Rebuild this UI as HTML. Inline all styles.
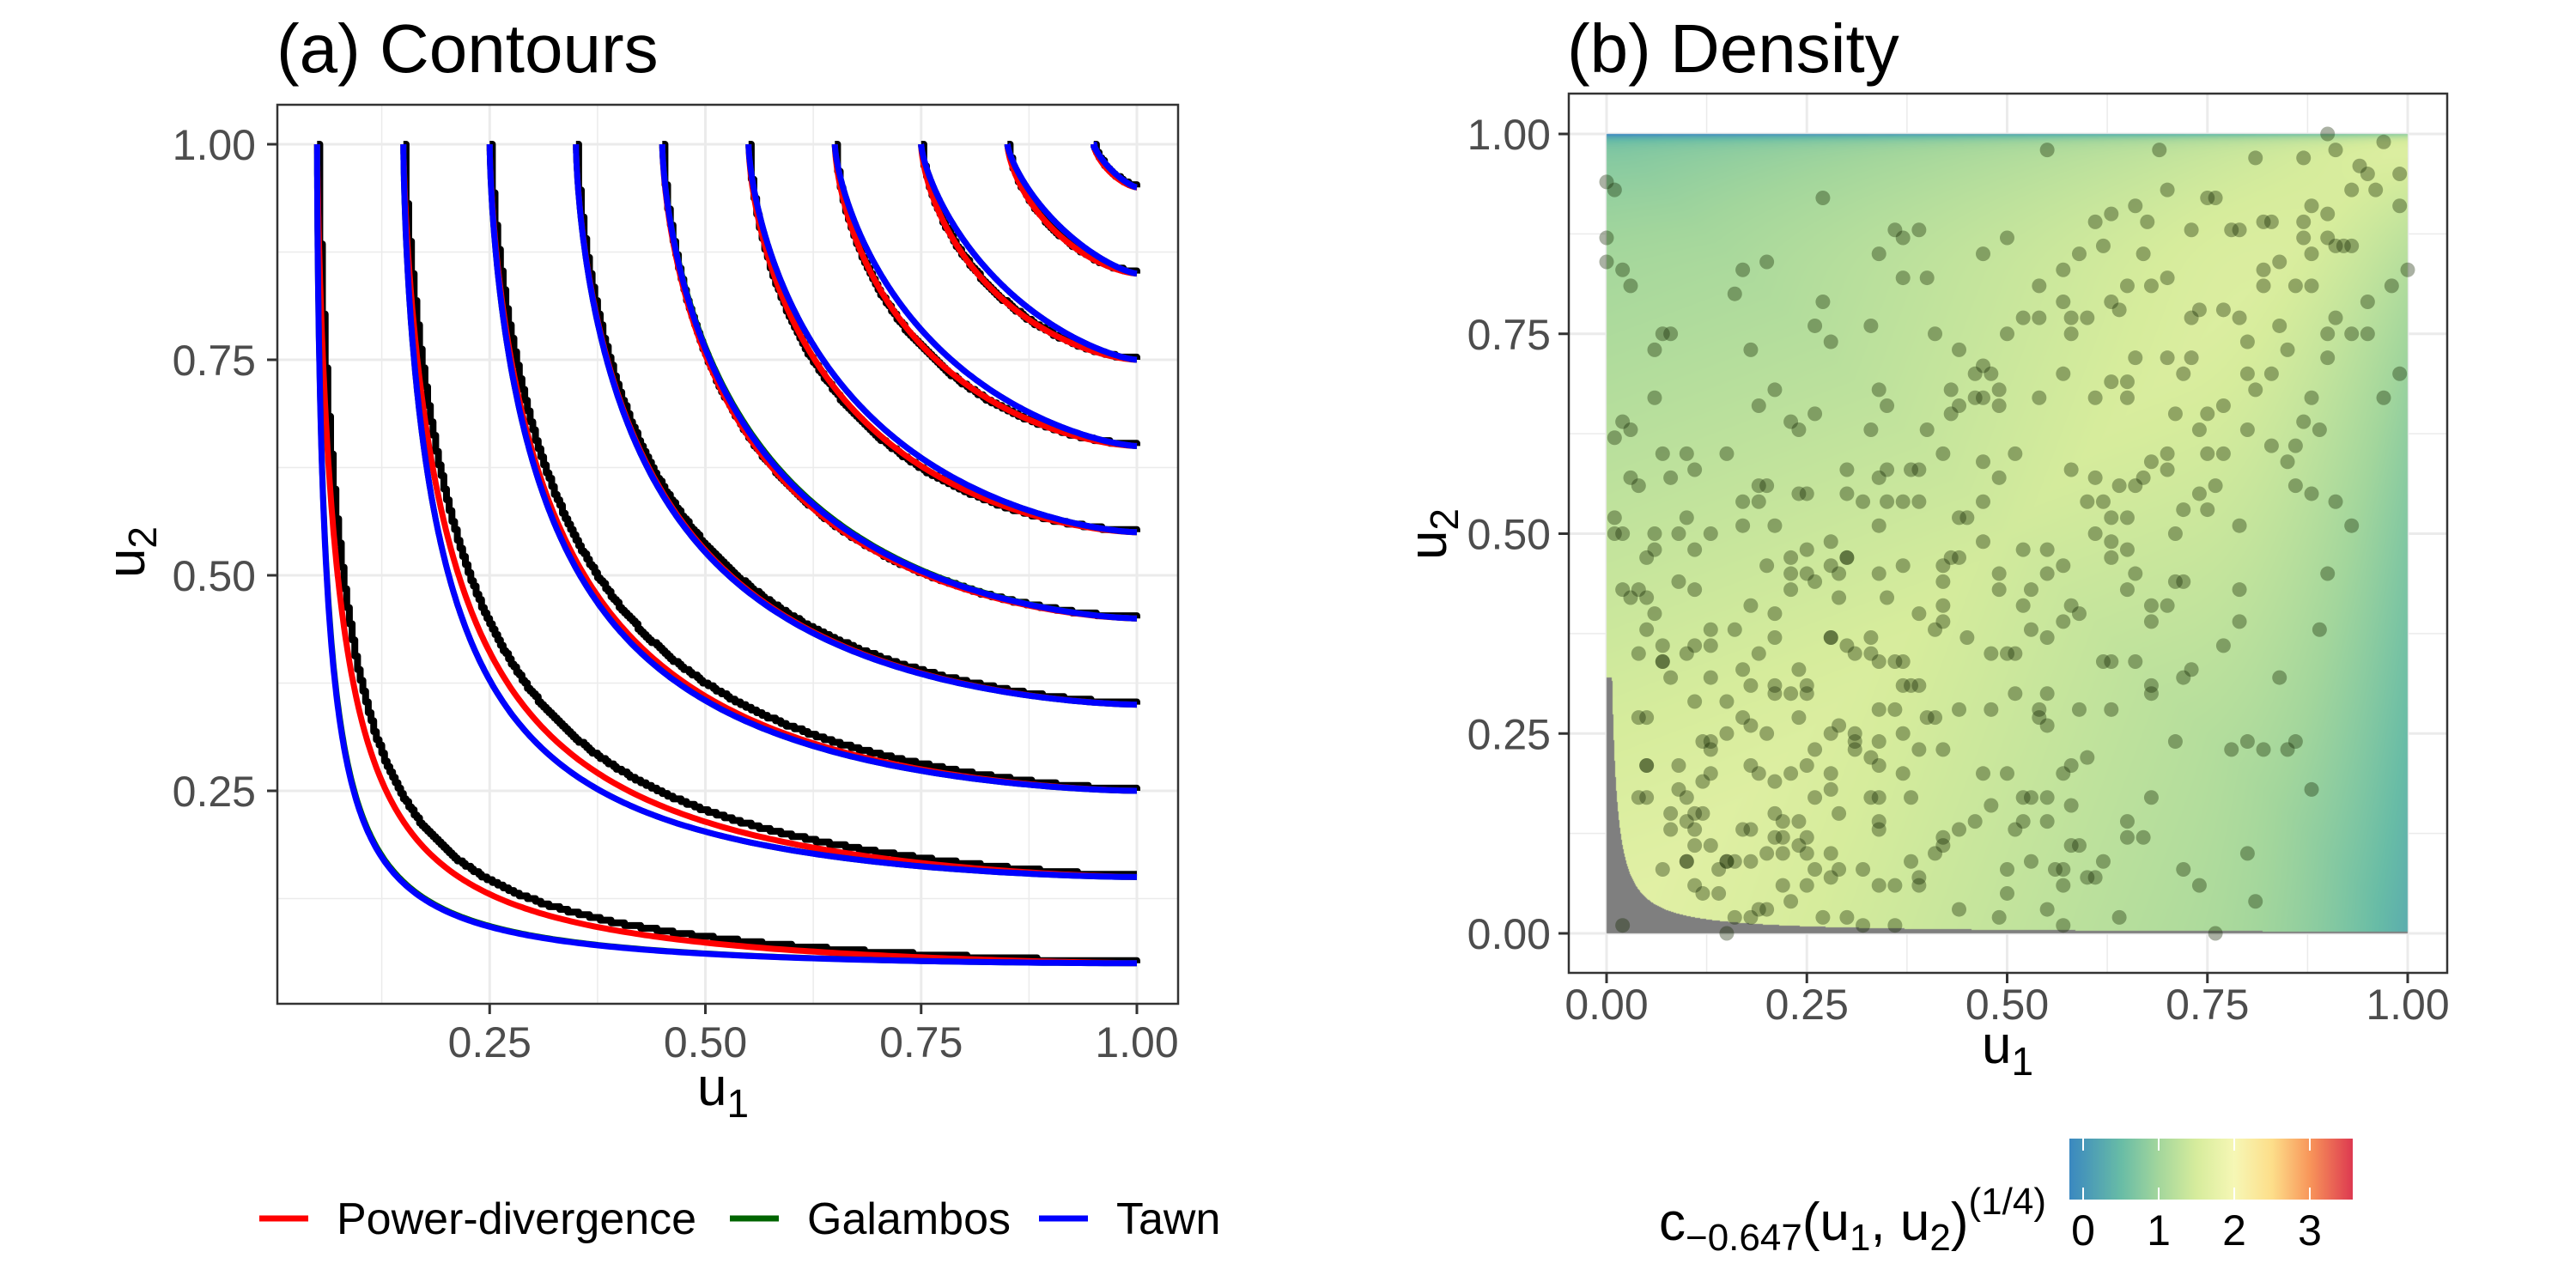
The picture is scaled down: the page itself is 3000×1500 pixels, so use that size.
<!DOCTYPE html>
<html><head><meta charset="utf-8">
<style>
html,body{margin:0;padding:0;background:#fff;}
#wrap{position:relative;width:3000px;height:1500px;overflow:hidden;font-family:"Liberation Sans",Arial,sans-serif;}
svg,canvas{position:absolute;left:0;top:0;}
</style></head>
<body>
<div id="wrap">
<svg id="under" width="3000" height="1500"></svg>
<canvas id="heat" width="3000" height="1500"></canvas>
<svg id="over" width="3000" height="1500"></svg>
</div>
<script>
// ---- data panel (a) ----
const levels=[0.05,0.15,0.25,0.35,0.45,0.55,0.65,0.75,0.85,0.95];
const thetaTawn=[1.56,1.48,1.5,1.53,1.52,1.48,1.43,1.38,1.34,1.3];
const thetaGalambos=[1.55,1.48,1.5,1.53,1.51,1.48,1.43,1.38,1.34,1.3];
const thetaPD=[1.25,1.38,1.47,1.52,1.55,1.56,1.56,1.55,1.52,1.48];
const thetaEmp=[1.18,1.3,1.4,1.5,1.56,1.6,1.6,1.58,1.55,1.5];
const axisTicks=[0.25,0.5,0.75,1.0];
const tickLabels=["0.25","0.50","0.75","1.00"];
const tickLabelsB=["0.00","0.25","0.50","0.75","1.00"];
const ticksB=[0,0.25,0.5,0.75,1];
const cbTicks=[0,1,2,3];
// ---- data panel (b): observations ----
const ptsU=[.90,.69,.55,.27,.70,.75,.76,.81,.87,.91,.94,.97,.95,.93,.96,.99,.99,.88,.90,.87,.82,.83,.87,.90,.92,.91,.93,1.0,.82,.84,.88,.86,.82,.88,.98,.95,.99,.97,.93,.95,.90,.91,.90,.85,.84,.80,.79,.77,.74,.73,.70,.68,.65,.67,.675,.66,.63,.61,.62,.59,.57,.57,.58,.60,.63,.64,.73,.78,.79,.54,.54,.52,.50,.47,.50,.39,.40,.37,.36,.37,.34,.41,.33,.28,.27,.18,.17,.16,.20,.00,.01,.00,.00,.02,.03,.06,.07,.08,.06,.02,.03,.01,.03,.04,.07,.10,.11,.08,.01,.02,.01,.06,.05,.06,.09,.10,.11,.13,.15,.17,.19,.17,.21,.20,.19,.20,.21,.19,.23,.24,.25,.24,.26,.02,.03,.04,.05,.06,.09,.11,.05,.04,.07,.07,.08,.07,.04,.11,.10,.13,.13,.16,.18,.21,.23,.23,.25,.26,.28,.30,.28,.21,.19,.17,.18,.21,.21,.23,.25,.24,.25,.13,.11,.15,.18,.20,.17,.12,.13,.13,.15,.24,.28,.26,.29,.31,.33,.28,.25,.23,.21,.18,.19,.13,.12,.10,.10,.11,.12,.09,.05,.05,.08,.07,.10,.11,.13,.14,.15,.15,.12,.14,.16,.18,.19,.20,.23,.22,.25,.21,.22,.24,.18,.17,.21,.22,.25,.28,.28,.29,.32,.34,.36,.39,.38,.39,.41,.27,.30,.32,.36,.44,.49,.50,.55,.57,.57,.57,.60,.61,.64,.62,.65,.72,.74,.76,.80,.81,.78,.80,.82,.85,.86,.88,.84,.89,.90,.91,.93,.79,.79,.77,.73,.72,.71,.68,.68,.68,.66,.63,.62,.63,.59,.60,.58,.58,.57,.54,.55,.55,.54,.51,.48,.47,.50,.52,.53,.55,.52,.55,.59,.48,.46,.44,.42,.42,.41,.44,.39,.40,.37,.38,.34,.34,.34,.42,.48,.50,.51,.53,.55,.57,.58,.59,.52,.53,.55,.57,.52,.55,.61,.63,.63,.65,.66,.65,.68,.68,.70,.71,.72,.71,.72,.74,.75,.76,.75,.77,.79,.80,.83,.85,.86,.86,.87,.88,.89,.88,.81,.80,.83,.77,.75,.74,.73,.72,.70,.71,.70,.70,.68,.67,.66,.64,.65,.63,.62,.60,.58,.61,.66,.65,.65,.63,.61,.57,.58,.54,.51,.49,.47,.47,.47,.49,.49,.44,.46,.47,.49,.49,.47,.46,.48,.44,.43,.43,.42,.44,.44,.45,.43,.42,.42,.42,.42,.45,.41,.39,.38,.37,.36,.34,.34,.37,.31,.37,.36,.34,.33,.30,.28,.34,.37,.35,.39,.39,.37,.35,.34,.32,.30,.30,.35,.38,.39,.40,.34,.35,.33,.34,.26,.25,.23,.28,.29,.29,.30,.33,.31,.31,.34,.33,.29,.28,.26,.24,.25,.26,.20,.22,.18,.16,.11,.15,.02,.05,.05,.04,.08,.09,.10,.11,.50,.51,.53,.56,.58,.65,.67];
const ptsV=[1.00,.98,.98,.92,.93,.92,.92,.97,.97,.98,.96,.99,.95,.93,.93,.95,.91,.91,.90,.89,.89,.89,.87,.87,.86,.86,.86,.83,.83,.84,.85,.81,.81,.81,.81,.79,.70,.67,.75,.75,.75,.77,.72,.73,.76,.74,.77,.78,.78,.77,.82,.81,.81,.85,.89,.91,.90,.89,.86,.85,.83,.79,.77,.77,.79,.78,.88,.88,.88,.81,.77,.77,.75,.85,.87,.88,.82,.82,.88,.87,.85,.75,.76,.74,.79,.73,.83,.80,.84,.94,.93,.87,.84,.83,.81,.73,.75,.75,.67,.64,.63,.62,.57,.56,.60,.60,.58,.57,.52,.50,.50,.50,.47,.48,.50,.52,.48,.50,.60,.54,.54,.51,.51,.46,.56,.56,.68,.66,.64,.55,.55,.63,.65,.43,.42,.43,.42,.40,.44,.43,.38,.35,.36,.34,.32,.34,.27,.36,.35,.36,.38,.38,.41,.40,.43,.47,.45,.44,.46,.47,.37,.37,.35,.33,.31,.31,.30,.30,.31,.33,.30,.32,.29,.29,.26,.25,.27,.24,.24,.23,.25,.27,.25,.23,.26,.23,.22,.20,.21,.20,.19,.21,.20,.20,.19,.17,.14,.15,.15,.18,.21,.17,.13,.08,.09,.11,.11,.08,.09,.09,.05,.05,.02,.02,.03,.03,.04,.06,.06,.12,.12,.11,.13,.13,.15,.14,.12,.10,.07,.08,.08,.06,.06,.06,.09,.07,.10,.02,.02,.01,.01,.03,.02,.05,.03,.01,.06,.08,.07,.07,.02,.09,.12,.08,.06,.00,.10,.04,.23,.24,.23,.23,.24,.18,.32,.38,.45,.54,.51,.39,.43,.36,.33,.32,.24,.17,.31,.30,.34,.34,.34,.28,.28,.22,.21,.16,.20,.27,.26,.30,.28,.30,.28,.20,.20,.17,.17,.17,.14,.14,.11,.16,.14,.13,.11,.23,.27,.28,.23,.27,.20,.17,.17,.14,.13,.12,.35,.35,.35,.38,.37,.39,.41,.40,.41,.43,.45,.46,.48,.48,.50,.49,.47,.48,.45,.43,.41,.39,.41,.44,.44,.50,.53,.55,.53,.56,.60,.60,.51,.63,.61,.59,.61,.56,.64,.67,.63,.55,.68,.70,.70,.66,.65,.63,.72,.70,.72,.65,.58,.60,.59,.57,.56,.56,.52,.52,.54,.54,.58,.57,.72,.69,.67,.69,.67,.70,.75,.67,.60,.57,.59,.54,.49,.45,.43,.66,.67,.67,.66,.68,.71,.70,.70,.73,.68,.65,.60,.52,.47,.52,.47,.46,.44,.41,.39,.37,.38,.31,.31,.31,.28,.28,.24,.25,.25,.34,.34,.34,.37,.36,.37,.45,.46,.42,.40,.54,.54,.54,.51,.54,.55,.58,.58,.58,.58,.63,.57,.66,.63,.68,.76,.48,.45,.49,.42,.45,.47,.35,.35,.24,.21,.17,.15,.18,.17,.14,.10,.08,.10,.10,.09,.09,.06,.00,.01,.27,.21,.17,.15,.21,.09,.13,.08,.13,.09,.08,.11,.14,.12,.21];

const NS="http://www.w3.org/2000/svg";
const under=document.getElementById('under'), over=document.getElementById('over');
function mk(parent,tag,attrs,text){const e=document.createElementNS(NS,tag);for(const k in attrs)e.setAttribute(k,attrs[k]);if(text!==undefined)e.textContent=text;parent.appendChild(e);return e;}

// ---------- Panel A scales ----------
const ax=u=>319+1005*u, ay=v=>1172-1004*v;
const A={l:323,r:1372,t:122,b:1169};
let bgA=mk(under,'rect',{x:A.l,y:A.t,width:A.r-A.l,height:A.b-A.t,fill:'#fff'});


for(let g=0.125;g<=1.01;g+=0.125){
  const major=Math.abs(g*4-Math.round(g*4))<1e-6;
  let gl=mk(under,'line',{x1:ax(g),x2:ax(g),y1:A.t,y2:A.b,stroke:'#ebebeb','stroke-width':major?3:1.5});
  
  
  let gh=mk(under,'line',{x1:A.l,x2:A.r,y1:ay(g),y2:ay(g),stroke:'#ebebeb','stroke-width':major?3:1.5});
  
  
}
function gumbelV(t,u,th){const a=Math.pow(-Math.log(t),th)-Math.pow(-Math.log(u),th);return Math.exp(-Math.pow(Math.max(a,0),1/th));}
function curvePath(t,th){let d='';const N=300;for(let k=0;k<=N;k++){const s=k/N;const u=t+(1-t)*s*s*s;const v=gumbelV(t,Math.min(u,1),th);d+=(k?'L':'M')+ax(u).toFixed(1)+','+ay(v).toFixed(1);}return d;}
function stepPath(t,th){let d='';const st=1/320;let prev=null;for(let u=t;u<=1+1e-9;u+=st){const v=Math.ceil(gumbelV(t,Math.min(u,1),th)*320)/320;if(prev===null)d+='M'+ax(u).toFixed(1)+','+ay(1).toFixed(1)+'L'+ax(u).toFixed(1)+','+ay(v).toFixed(1);else d+='L'+ax(u).toFixed(1)+','+ay(prev).toFixed(1)+'L'+ax(u).toFixed(1)+','+ay(v).toFixed(1);prev=v;}d+='L'+ax(1).toFixed(1)+','+ay(prev).toFixed(1);return d;}
const gA=mk(over,'g',{});


levels.forEach((t,i)=>{
  let e=mk(gA,'path',{d:stepPath(t,thetaEmp[i]),fill:'none',stroke:'#000','stroke-width':8,'stroke-linejoin':'round'});
  
  
});
levels.forEach((t,i)=>{
  let r=mk(gA,'path',{d:curvePath(t,thetaPD[i]),fill:'none',stroke:'#ff0000','stroke-width':7});
  
  
  let g=mk(gA,'path',{d:curvePath(t,thetaGalambos[i]),fill:'none',stroke:'#006400','stroke-width':7});
  
  
  let b=mk(gA,'path',{d:curvePath(t,thetaTawn[i]),fill:'none',stroke:'#0000ff','stroke-width':7});
  
  
});
let frA=mk(over,'rect',{x:A.l,y:A.t,width:A.r-A.l,height:A.b-A.t,fill:'none',stroke:'#333','stroke-width':2.5});


axisTicks.forEach((v,i)=>{
  mk(over,'line',{x1:ax(v),x2:ax(v),y1:A.b,y2:A.b+12,stroke:'#333','stroke-width':3});
  let tx=mk(over,'text',{x:ax(v),y:1231,'font-size':50,fill:'#4d4d4d','text-anchor':'middle'},tickLabels[i]);
  
  
  mk(over,'line',{x1:A.l-12,x2:A.l,y1:ay(v),y2:ay(v),stroke:'#333','stroke-width':3});
  let ty=mk(over,'text',{x:298,y:ay(v)+18,'font-size':50,fill:'#4d4d4d','text-anchor':'end'},tickLabels[i]);
  
  
});
function axisTitle(x,y,sub,rot,name){
  const t=mk(over,'text',{x:x,y:y,'font-size':62,fill:'#000','text-anchor':'middle',transform:rot?`rotate(-90 ${x} ${y})`:''});
  
  
  mk(t,'tspan',{},'u');mk(t,'tspan',{'font-size':46,dy:14},sub);
}
axisTitle(842,1287,'1',false,'panel-a-x-axis-title');
axisTitle(168,643,'2',true,'panel-a-y-axis-title');
let tA=mk(over,'text',{x:322,y:84,'font-size':80,fill:'#000'},'(a) Contours');


// legend
const legNames=['Power-divergence','Galambos','Tawn'],legCols=['#ff0000','#006400','#0000ff'],legX=[302,850,1210];
legNames.forEach((n,i)=>{
  const g=mk(over,'g',{});
  
  
  mk(g,'line',{x1:legX[i],x2:legX[i]+57,y1:1419,y2:1419,stroke:legCols[i],'stroke-width':7});
  mk(g,'text',{x:legX[i]+90,y:1437,'font-size':52,fill:'#000'},n);
});

// ---------- Panel B ----------
const bx=u=>1871+933*u, by=v=>1087-931*v;
const B={l:1827,r:2850,t:109,b:1133};
let bgB=mk(under,'rect',{x:B.l,y:B.t,width:B.r-B.l,height:B.b-B.t,fill:'#fff'});


for(let g=-0.125;g<=1.13;g+=0.125){
  const major=Math.abs(g*4-Math.round(g*4))<1e-6;
  if(bx(g)>B.l&&bx(g)<B.r){let l=mk(under,'line',{x1:bx(g),x2:bx(g),y1:B.t,y2:B.b,stroke:'#ebebeb','stroke-width':major?3:1.5});
  
  }
  if(by(g)>B.t&&by(g)<B.b){let l=mk(under,'line',{x1:B.l,x2:B.r,y1:by(g),y2:by(g),stroke:'#ebebeb','stroke-width':major?3:1.5});
  
  }
}
const cStops=[[-0.18,[58,136,192]],[0.5,[104,188,166]],[1.0,[163,214,156]],[1.5,[214,236,156]],[2.0,[246,247,181]],[2.5,[253,222,138]],[3.0,[248,150,90]],[3.57,[221,57,80]]];
function cmap(s){if(s<=cStops[0][0])return cStops[0][1];for(let i=1;i<cStops.length;i++){if(s<=cStops[i][0]){const a=cStops[i-1],b=cStops[i];const f=(s-a[0])/(b[0]-a[0]);return [0,1,2].map(k=>a[1][k]+(b[1][k]-a[1][k])*f);}}return cStops[cStops.length-1][1];}
function dens(u,v){
  let s=1.45-0.55*Math.abs(u-v)+0.25*Math.abs(u+v-1);
  if(u>0.72)s-=0.6*Math.pow((u-0.72)/0.28,2.2)*(1-Math.pow(v,6));
  if(v>0.82)s-=0.25*Math.pow((v-0.82)/0.18,2)*(1-Math.pow(u,6));
  s-=0.9*Math.exp(-(1-v)/0.006);
  return s;
}
(function(){
  const cv=document.getElementById('heat');const ctx=cv.getContext('2d');
  const x0=Math.round(bx(0)),x1=Math.round(bx(1)),y0=Math.round(by(1)),y1=Math.round(by(0));
  const w=x1-x0,h=y1-y0;const img=ctx.createImageData(w,h);
  for(let j=0;j<h;j++){const v=1-(j+0.5)/h;for(let i=0;i<w;i++){const u=(i+0.5)/w;let c;
    if(v<Math.min(0.32,0.0022/u))c=[127,127,127];else c=cmap(dens(u,v));
    const p=(j*w+i)*4;img.data[p]=c[0];img.data[p+1]=c[1];img.data[p+2]=c[2];img.data[p+3]=255;}}
  ctx.putImageData(img,x0,y0);
})();
const gP=mk(over,'g',{});


ptsU.forEach((u,i)=>{
  const c=mk(gP,'circle',{cx:bx(u),cy:by(ptsV[i]),r:8.5,fill:'rgba(20,40,0,0.36)'});
  
  
});
let frB=mk(over,'rect',{x:B.l,y:B.t,width:B.r-B.l,height:B.b-B.t,fill:'none',stroke:'#333','stroke-width':2.5});


ticksB.forEach((v,i)=>{
  mk(over,'line',{x1:bx(v),x2:bx(v),y1:B.b,y2:B.b+12,stroke:'#333','stroke-width':3});
  let tx=mk(over,'text',{x:bx(v),y:1187,'font-size':50,fill:'#4d4d4d','text-anchor':'middle'},tickLabelsB[i]);
  
  
  mk(over,'line',{x1:B.l-12,x2:B.l,y1:by(v),y2:by(v),stroke:'#333','stroke-width':3});
  let ty=mk(over,'text',{x:1806,y:by(v)+18,'font-size':50,fill:'#4d4d4d','text-anchor':'end'},tickLabelsB[i]);
  
  
});
axisTitle(2338,1238,'1',false,'panel-b-x-axis-title');
axisTitle(1684,622,'2',true,'panel-b-y-axis-title');
let tB=mk(over,'text',{x:1825,y:84,'font-size':80,fill:'#000'},'(b) Density');


// colorbar
const cbx=s=>2426+88*s;
const defs=mk(over,'defs',{});const lg=mk(defs,'linearGradient',{id:'cbg',x1:0,x2:1,y1:0,y2:0});
cStops.forEach(st=>{mk(lg,'stop',{offset:((cbx(st[0])-2410)/330).toFixed(3),'stop-color':`rgb(${st[1].map(Math.round).join(',')})`});});
let cb=mk(over,'rect',{x:2410,y:1326,width:330,height:71,fill:'url(#cbg)'});


cbTicks.forEach(s=>{
  mk(over,'line',{x1:cbx(s),x2:cbx(s),y1:1326,y2:1340,stroke:'#fff','stroke-width':2});
  mk(over,'line',{x1:cbx(s),x2:cbx(s),y1:1383,y2:1397,stroke:'#fff','stroke-width':2});
  let t=mk(over,'text',{x:cbx(s),y:1450,'font-size':50,fill:'#000','text-anchor':'middle'},String(s));
  
  
});
const ct=mk(over,'text',{x:1932,y:1444,'font-size':62,fill:'#000'});


mk(ct,'tspan',{},'c');mk(ct,'tspan',{'font-size':44,dy:12},'−0.647');mk(ct,'tspan',{dy:-12},'(u');
mk(ct,'tspan',{'font-size':44,dy:12},'1');mk(ct,'tspan',{dy:-12},', u');mk(ct,'tspan',{'font-size':44,dy:12},'2');
mk(ct,'tspan',{dy:-12},')');mk(ct,'tspan',{'font-size':44,dy:-30},'(1/4)');
</script>
</body></html>
